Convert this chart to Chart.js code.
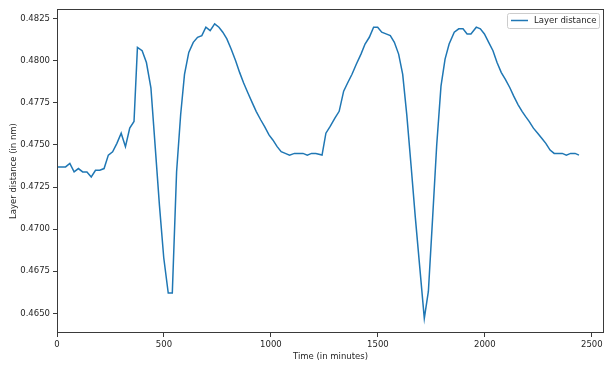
<!DOCTYPE html>
<html>
<head>
<meta charset="utf-8">
<script src="https://cdn.jsdelivr.net/npm/chart.js@4/dist/chart.umd.min.js"></script>
<style>
  html, body { margin: 0; padding: 0; background: #fff; }
  #wrap { width: 614px; height: 369px; }
</style>
</head>
<body>
<div id="wrap"><canvas id="layerChart" width="614" height="369"></canvas></div>
<script>
// time in minutes, layer distance in nm
const times = [
  0, 20, 40, 60, 80, 100, 120, 140, 160, 180,
  200, 220, 240, 260, 280, 300, 320, 340, 360, 376,
  398, 418, 439, 459, 479, 499, 520, 539, 559, 578,
  596, 616, 637, 657, 677, 696, 716, 737, 757, 775,
  794, 814, 835, 854, 872, 892, 913, 931, 952, 970,
  991, 1009, 1029, 1048, 1067, 1087, 1110, 1132, 1150, 1170,
  1190, 1210, 1239, 1257, 1277, 1299, 1319, 1340, 1359, 1379,
  1399, 1421, 1440, 1460, 1480, 1499, 1518, 1538, 1558, 1577,
  1597, 1616, 1635, 1655, 1675, 1696, 1717, 1736, 1756, 1775,
  1795, 1814, 1833, 1857, 1878, 1898, 1917, 1935, 1960, 1979,
  1998, 2018, 2038, 2057, 2077, 2096, 2117, 2135, 2155, 2174,
  2190, 2207, 2227, 2247, 2266, 2285, 2305, 2324, 2344, 2362,
  2381, 2401, 2422, 2440
];
const layerDistance = [
  0.4737, 0.4737, 0.4737, 0.4739, 0.4734, 0.4736, 0.4734, 0.4734, 0.4731, 0.4735,
  0.4735, 0.4736, 0.4744, 0.4746, 0.4751, 0.4757, 0.4749, 0.4760, 0.4764, 0.4808,
  0.4806, 0.4799, 0.4784, 0.4749, 0.4714, 0.4683, 0.4662, 0.4662, 0.4734, 0.4768,
  0.4792, 0.4805, 0.4811, 0.4814, 0.4815, 0.4820, 0.4818, 0.4822, 0.4820, 0.4817,
  0.4813, 0.4807, 0.4800, 0.4793, 0.4787, 0.4781, 0.4775, 0.4770, 0.4765, 0.4761,
  0.4756, 0.4753, 0.4749, 0.4746, 0.4745, 0.4744, 0.4745, 0.4745, 0.4745, 0.4744,
  0.4745, 0.4745, 0.4744, 0.4757, 0.4761, 0.4766, 0.4770, 0.4782, 0.4787, 0.4792,
  0.4798, 0.4804, 0.4810, 0.4814, 0.4820, 0.4820, 0.4817, 0.4816, 0.4815, 0.4811,
  0.4804, 0.4792, 0.4768, 0.4738, 0.4707, 0.4677, 0.4647, 0.4663, 0.4707, 0.4750,
  0.4785, 0.4801, 0.4810, 0.4817, 0.4819, 0.4819, 0.4816, 0.4816, 0.4820, 0.4819,
  0.4816, 0.4811, 0.4806, 0.4799, 0.4793, 0.4789, 0.4784, 0.4779, 0.4774, 0.4770,
  0.4767, 0.4764, 0.4760, 0.4757, 0.4754, 0.4751, 0.4747, 0.4745, 0.4745, 0.4745,
  0.4744, 0.4745, 0.4745, 0.4744
];
const xTicks = [0, 500, 1000, 1500, 2000, 2500];
const yTicks = [0.4650, 0.4675, 0.4700, 0.4725, 0.4750, 0.4775, 0.4800, 0.4825];

const lineColor = '#1f77b4';
const textColor = '#262626';
const fontFamily = '"DejaVu Sans", sans-serif';
const fontSize = 8.5;

// box around the plot (all four spines)
const frame = {
  id: 'frame',
  afterDraw(chart) {
    const { ctx, chartArea: a } = chart;
    ctx.save();
    ctx.strokeStyle = '#3a3a3a';
    ctx.lineWidth = 1;
    ctx.strokeRect(Math.round(a.left) + 0.5, Math.round(a.top) + 0.5,
      Math.round(a.right - a.left) - 1, Math.round(a.bottom - a.top) - 1);
    ctx.restore();
  }
};

// matplotlib style legend, top right inside the axes
const boxLegend = {
  id: 'boxLegend',
  afterDraw(chart) {
    const { ctx, chartArea: a } = chart;
    const label = chart.data.datasets[0].label;
    const w = 92, h = 15;
    const x = a.right - 5 - w, y = a.top + 4;
    ctx.save();
    ctx.fillStyle = 'rgba(255,255,255,0.8)';
    ctx.strokeStyle = '#cccccc';
    ctx.lineWidth = 1;
    ctx.beginPath();
    ctx.roundRect(x + 0.5, y + 0.5, w, h, 2);
    ctx.fill();
    ctx.stroke();
    ctx.strokeStyle = lineColor;
    ctx.lineWidth = 1.5;
    ctx.beginPath();
    ctx.moveTo(x + 4, y + 7.5);
    ctx.lineTo(x + 21, y + 7.5);
    ctx.stroke();
    ctx.fillStyle = textColor;
    ctx.font = fontSize + 'px ' + fontFamily;
    ctx.textBaseline = 'middle';
    ctx.fillText(label, x + 27, y + 8);
    ctx.restore();
  }
};

new Chart(document.getElementById('layerChart'), {
  type: 'line',
  data: {
    datasets: [{
      label: 'Layer distance',
      data: times.map((t, i) => ({ x: t, y: layerDistance[i] })),
      borderColor: lineColor,
      borderWidth: 1.5,
      pointRadius: 0,
      tension: 0,
      fill: false
    }]
  },
  options: {
    responsive: false,
    animation: false,
    layout: { padding: { top: 9, right: 10, left: 0, bottom: 0 } },
    plugins: { legend: { display: false }, tooltip: { enabled: false } },
    scales: {
      x: {
        type: 'linear',
        min: 0,
        max: 2557,
        afterFit(scale) { scale.height = 36; },
        afterBuildTicks(scale) { scale.ticks = xTicks.map(v => ({ value: v })); },
        grid: { display: true, drawOnChartArea: false, drawTicks: true, tickLength: 4, color: '#3a3a3a' },
        border: { display: false },
        ticks: { color: textColor, font: { family: fontFamily, size: fontSize }, padding: 3, maxRotation: 0,
                 callback: v => String(v) },
        title: { display: true, text: 'Time (in minutes)', color: textColor,
                 font: { family: fontFamily, size: fontSize }, padding: { top: 0, bottom: 7 } }
      },
      y: {
        min: 0.46383,
        max: 0.48308,
        afterFit(scale) { scale.width = 57; },
        afterBuildTicks(scale) { scale.ticks = yTicks.map(v => ({ value: v })); },
        grid: { display: true, drawOnChartArea: false, drawTicks: true, tickLength: 4, color: '#3a3a3a' },
        border: { display: false },
        ticks: { color: textColor, font: { family: fontFamily, size: fontSize }, padding: 3,
                 callback: v => v.toFixed(4) },
        title: { display: true, text: 'Layer distance (in nm)', color: textColor,
                 font: { family: fontFamily, size: fontSize }, padding: { top: 9, bottom: 0 } }
      }
    }
  },
  plugins: [frame, boxLegend]
});
</script>
</body>
</html>
